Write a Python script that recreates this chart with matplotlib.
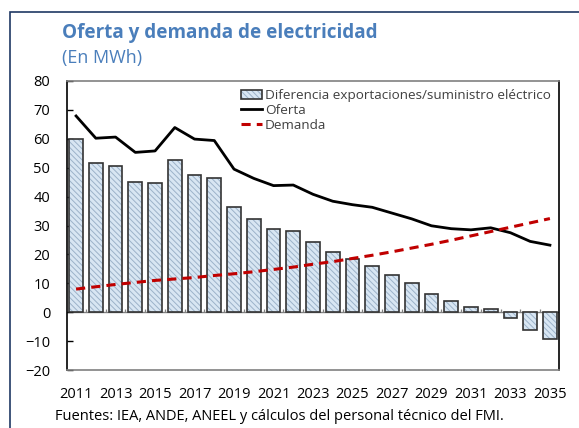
import numpy as np
import matplotlib.pyplot as plt
from matplotlib.patches import Rectangle

plt.rcParams['font.family'] = ['Open Sans', 'DejaVu Sans']
plt.rcParams['hatch.linewidth'] = 0.7

years = list(range(2011, 2036))
diferencia = [59.8, 51.5, 50.6, 44.9, 44.6, 52.5, 47.5, 46.3, 36.4, 32.3,
              28.9, 28.2, 24.3, 20.7, 18.3, 16.1, 13.0, 10.1, 6.4, 3.8,
              1.9, 1.2, -1.9, -6.2, -9.4]
oferta = [67.9, 60.2, 60.6, 55.3, 55.8, 63.9, 59.9, 59.4, 49.5, 46.3,
          43.8, 44.0, 40.8, 38.4, 37.2, 36.3, 34.3, 32.3, 29.9, 28.9,
          28.5, 29.2, 27.5, 24.5, 23.2]
demanda = [8.0, 8.8, 9.6, 10.3, 11.0, 11.5, 12.0, 12.7, 13.3, 14.0,
           14.8, 15.6, 16.6, 17.5, 18.6, 19.7, 20.9, 22.2, 23.5, 24.9,
           26.4, 27.9, 29.4, 30.9, 32.4]
xlabels = [str(y) for y in years[::2]]

blue = '#4a7ebb'
fig = plt.figure(figsize=(5.79, 4.28), dpi=100)

# frame around the whole figure
fig.patches.append(Rectangle((10 / 579, -0.1), 1.2, 1 - 12 / 428 + 0.1,
                             transform=fig.transFigure, fill=False,
                             edgecolor='#1f3864', linewidth=1.2))

ax = fig.add_axes([67 / 579, 1 - 370 / 428, (559 - 67) / 579, (370 - 81) / 428])

# hatched fill (light hatch), then dark outline on top
fill = ax.bar(years, diferencia, width=0.7, color='#d8e6f3', edgecolor='#9cb2c9',
              linewidth=0, hatch='\\\\\\\\\\\\', zorder=2)
edge = ax.bar(years, diferencia, width=0.7, fill=False, edgecolor='#333333',
              linewidth=1.2, zorder=2)
l1, = ax.plot(years, oferta, color='black', linewidth=2.0, zorder=3)
l2, = ax.plot(years, demanda, color='#c00000', linewidth=2.2, linestyle=(0, (3, 2)),
              zorder=4)

ax.axhline(0, color='#808080', linewidth=1.0, zorder=1)
ax.vlines(np.array(years[:-1]) + 0.5, 0, 1.2, color='#808080', linewidth=0.9, zorder=1)

ax.set_xlim(2010.54, 2035.46)
ax.set_ylim(-20, 80)
ax.set_yticks(range(-20, 81, 10))
ax.set_xticks(years[::2])
ax.set_xticklabels(xlabels)
ax.tick_params(axis='x', length=0, pad=12, labelsize=10.5, colors='black')
ax.tick_params(axis='y', direction='in', length=4, width=1, pad=12, labelsize=10.5)

for s in ['left', 'right']:
    ax.spines[s].set_color('black')
    ax.spines[s].set_linewidth(1.2)
for s in ['top', 'bottom']:
    ax.spines[s].set_color('#808080')
    ax.spines[s].set_linewidth(1.2)

leg = ax.legend([(fill, edge), l1, l2],
                ['Diferencia exportaciones/suministro eléctrico', 'Oferta', 'Demanda'],
                loc='upper right', bbox_to_anchor=(1.0, 1.0), frameon=False,
                fontsize=9.7, handlelength=1.6, handletextpad=0.2,
                labelspacing=0.15, borderaxespad=0.2)
for t in leg.get_texts():
    t.set_color('#404040')

fig.text(62 / 579, 1 - 33 / 428, 'Oferta y demanda de electricidad', color=blue,
         fontsize=13.6, fontweight='bold', va='center', ha='left')
fig.text(62 / 579, 1 - 58 / 428, '(En MWh)', color=blue, fontsize=13,
         va='center', ha='left')
fig.text(55 / 579, 1 - 416 / 428,
         'Fuentes: IEA, ANDE, ANEEL y cálculos del personal técnico del FMI.',
         fontsize=10.5, va='center', ha='left')

fig.savefig('out.png', dpi=100)
